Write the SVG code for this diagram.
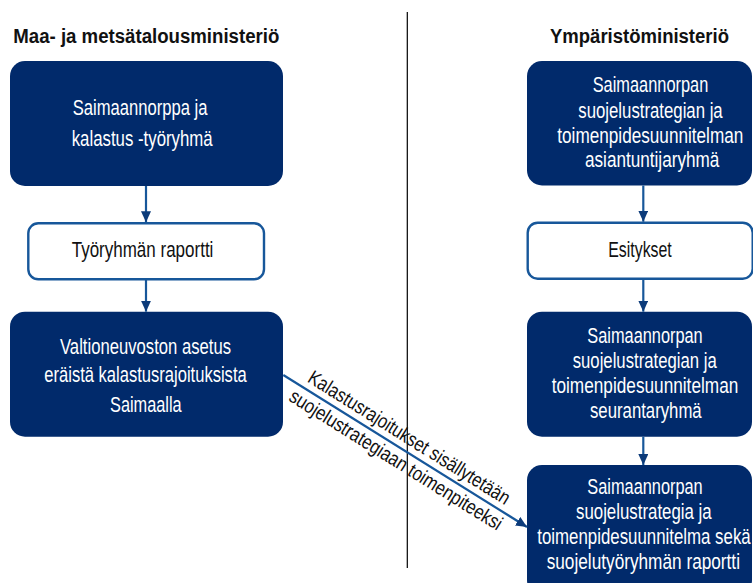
<svg xmlns="http://www.w3.org/2000/svg" width="753" height="583" viewBox="0 0 753 583">
<style>
text { font-family: "Liberation Sans", Arial, sans-serif; }
.title { font-size: 20px; font-weight: bold; fill: #111; }
.dark rect { fill: #012a6b; }
.dark text { fill: #ffffff; font-size: 22px; }
.light rect { fill: #ffffff; stroke: #17579a; stroke-width: 2.4; }
.light text { fill: #111; font-size: 22px; }
.conn { stroke: #17579a; stroke-width: 2.2; fill: none; marker-end: url(#ah); }
.lbl { font-size: 20px; fill: #111; }
</style>
<defs>
<marker id="ah" markerUnits="userSpaceOnUse" markerWidth="12" markerHeight="11" refX="11" refY="5" orient="auto">
<path d="M0,0 L11,5 L0,10 z" fill="#0c3b7a"/>
</marker>
</defs>
<rect width="753" height="583" fill="#ffffff"/>
<line x1="407.3" y1="12" x2="407.3" y2="568" stroke="#000" stroke-width="1.2"/>
<text class="title" x="13.3" y="42.7" textLength="266" lengthAdjust="spacingAndGlyphs">Maa- ja metsätalousministeriö</text>
<text class="title" x="550" y="43.3" textLength="179" lengthAdjust="spacingAndGlyphs">Ympäristöministeriö</text>

<g id="n1" class="dark">
<rect x="10" y="61" width="273" height="125" rx="15"/>
<g transform="scale(0.75 1)">
<text x="96.93" y="115" textLength="179.6" lengthAdjust="spacingAndGlyphs">Saimaannorppa ja</text>
<text x="95.6" y="145.7" textLength="188" lengthAdjust="spacingAndGlyphs">kalastus -työryhmä</text>
</g>
</g>
<g id="n2" class="light">
<rect x="28.3" y="223.3" width="235.7" height="56" rx="10"/>
<g transform="scale(0.75 1)">
<text x="95.6" y="256.7" textLength="188.93" lengthAdjust="spacingAndGlyphs">Työryhmän raportti</text>
</g>
</g>
<g id="n3" class="dark">
<rect x="10" y="311.7" width="273" height="125" rx="15"/>
<g transform="scale(0.75 1)">
<text x="80" y="354.3" textLength="228" lengthAdjust="spacingAndGlyphs">Valtioneuvoston asetus</text>
<text x="59.07" y="382.3" textLength="269.87" lengthAdjust="spacingAndGlyphs">eräistä kalastusrajoituksista</text>
<text x="146.67" y="411.7" textLength="95.6" lengthAdjust="spacingAndGlyphs">Saimaalla</text>
</g>
</g>
<g id="n4" class="dark">
<rect x="527" y="61" width="225" height="124.5" rx="15"/>
<g transform="scale(0.75 1)">
<text x="790.27" y="92.3" textLength="154.13" lengthAdjust="spacingAndGlyphs">Saimaannorpan</text>
<text x="771.07" y="118.3" textLength="192.53" lengthAdjust="spacingAndGlyphs">suojelustrategian ja</text>
<text x="743.07" y="142.7" textLength="248" lengthAdjust="spacingAndGlyphs">toimenpidesuunnitelman</text>
<text x="780" y="166.7" textLength="179.07" lengthAdjust="spacingAndGlyphs">asiantuntijaryhmä</text>
</g>
</g>
<g id="n5" class="light">
<rect x="527.7" y="222.7" width="225" height="56" rx="10"/>
<g transform="scale(0.75 1)">
<text x="811.07" y="256.7" textLength="84.53" lengthAdjust="spacingAndGlyphs">Esitykset</text>
</g>
</g>
<g id="n6" class="dark">
<rect x="527" y="311.7" width="225" height="125" rx="15"/>
<g transform="scale(0.75 1)">
<text x="783.07" y="343.3" textLength="153.87" lengthAdjust="spacingAndGlyphs">Saimaannorpan</text>
<text x="763.6" y="368.3" textLength="192" lengthAdjust="spacingAndGlyphs">suojelustrategian ja</text>
<text x="735.6" y="393.3" textLength="248.8" lengthAdjust="spacingAndGlyphs">toimenpidesuunnitelman</text>
<text x="786.67" y="418.3" textLength="148.93" lengthAdjust="spacingAndGlyphs">seurantaryhmä</text>
</g>
</g>
<g id="n7" class="dark">
<rect x="527" y="465" width="225" height="130" rx="15"/>
<g transform="scale(0.75 1)">
<text x="783.07" y="494" textLength="153.87" lengthAdjust="spacingAndGlyphs">Saimaannorpan</text>
<text x="768" y="519.5" textLength="180.93" lengthAdjust="spacingAndGlyphs">suojelustrategia ja</text>
<text x="716.4" y="544.5" textLength="284.53" lengthAdjust="spacingAndGlyphs">toimenpidesuunnitelma sekä</text>
<text x="728.93" y="569.5" textLength="257.73" lengthAdjust="spacingAndGlyphs">suojelutyöryhmän raportti</text>
</g>
</g>

<g id="connectors">
<line class="conn" x1="146" y1="186" x2="146" y2="222.3"/>
<line class="conn" x1="146" y1="280" x2="146" y2="311.7"/>
<line class="conn" x1="643.3" y1="185.5" x2="643.3" y2="221.7"/>
<line class="conn" x1="643.3" y1="279.3" x2="643.3" y2="311.7"/>
<line class="conn" x1="643.3" y1="436.7" x2="643.3" y2="465"/>
<line class="conn" x1="283.3" y1="375" x2="527" y2="527"/>
<g transform="translate(283.3,375) rotate(32) scale(0.8 1)">
<text class="lbl" x="28.75" y="-7" textLength="292.5" lengthAdjust="spacingAndGlyphs">Kalastusrajoitukset sisällytetään</text>
<text class="lbl" x="21.25" y="19" textLength="308.75" lengthAdjust="spacingAndGlyphs">suojelustrategiaan toimenpiteeksi</text>
</g>
</g>
</svg>
